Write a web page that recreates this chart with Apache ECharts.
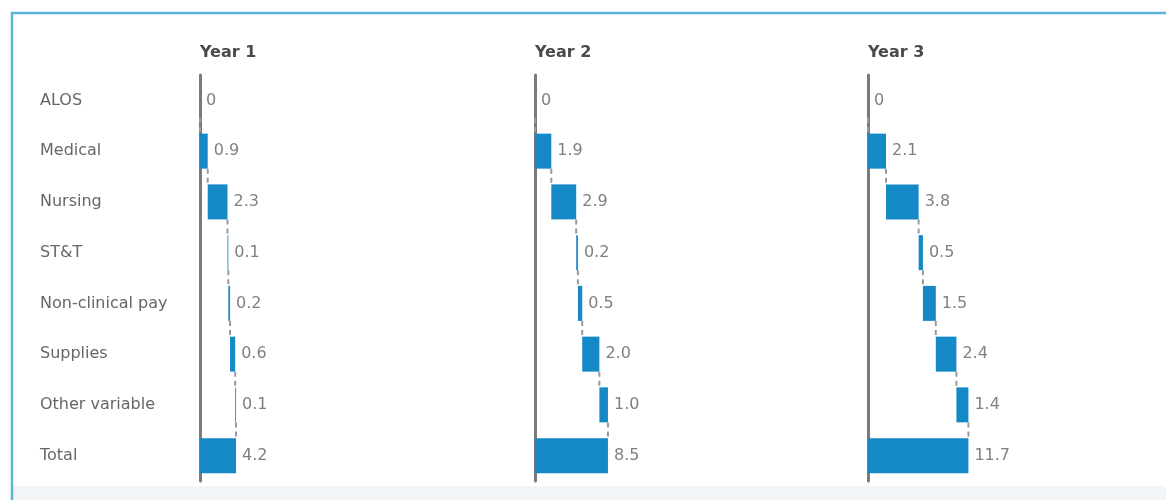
<!DOCTYPE html>
<html>
<head>
<meta charset="utf-8">
<style>
  html, body { margin: 0; padding: 0; background: #ffffff; }
  #chart { width: 1166px; height: 500px; }
</style>
<script src="https://cdn.jsdelivr.net/npm/echarts@6/dist/echarts.min.js"></script>
</head>
<body>
<div id="chart"></div>
<script>
const categories = ['ALOS', 'Medical', 'Nursing', 'ST&T', 'Non-clinical pay', 'Supplies', 'Other variable', 'Total'];
const panelTitles = ['Year 1', 'Year 2', 'Year 3'];
const year1 = [0, 0.9, 2.3, 0.1, 0.2, 0.6, 0.1, 4.2];
const year2 = [0, 1.9, 2.9, 0.2, 0.5, 2.0, 1.0, 8.5];
const year3 = [0, 2.1, 3.8, 0.5, 1.5, 2.4, 1.4, 11.7];
const yearsData = [year1, year2, year3];

const BAR_W = 35;
const gridLefts = [200, 535, 868];
const GRID_W = 103;
const X_MAX = 12;
const BLUE = '#1489c6';
const FONT = 'DejaVu Sans';

const chart = echarts.init(document.getElementById('chart'), null, { renderer: 'canvas' });

const grids = [], xAxes = [], yAxes = [], series = [], titles = [];

yearsData.forEach((vals, g) => {
  const last = vals.length - 1;
  const bases = [];
  const ends = [];
  let cum = 0;
  vals.forEach((v, i) => {
    if (i === last) { bases.push(0); ends.push(v); }
    else { bases.push(cum); cum += v; ends.push(cum); }
  });

  grids.push({ left: gridLefts[g], top: 75, width: GRID_W, height: 406, containLabel: false });
  xAxes.push({ type: 'value', gridIndex: g, min: 0, max: X_MAX, show: false });
  yAxes.push({
    type: 'category', gridIndex: g, data: categories, inverse: true,
    axisLine: { show: true, lineStyle: { color: '#7a7a7a', width: 3 } },
    axisTick: { show: false },
    splitLine: { show: false },
    axisLabel: g === 0 ? {
      show: true, align: 'left', margin: 160, color: '#666666',
      fontFamily: FONT, fontSize: 16
    } : { show: false }
  });
  titles.push({
    text: panelTitles[g], left: gridLefts[g] - 5, top: 40,
    textStyle: { fontFamily: FONT, fontSize: 16, fontWeight: 'bold', color: '#4a4a4a' }
  });

  series.push({
    type: 'bar', xAxisIndex: g, yAxisIndex: g, stack: 's' + g,
    barWidth: BAR_W, silent: true,
    itemStyle: { color: 'transparent' },
    data: bases
  });
  series.push({
    type: 'bar', xAxisIndex: g, yAxisIndex: g, stack: 's' + g,
    barWidth: BAR_W,
    itemStyle: { color: BLUE },
    label: {
      show: true, position: 'right', distance: 6,
      color: '#808080', fontFamily: FONT, fontSize: 16,
      formatter: p => (p.value === 0 ? '0' : p.value.toFixed(1))
    },
    data: vals
  });
  // dashed connectors between consecutive bars, at the running total
  const connData = ends.slice(0, last).map((e, i) => [e, i]);
  series.push({
    type: 'custom', xAxisIndex: g, yAxisIndex: g, silent: true,
    renderItem: (params, api) => {
      const pt = api.coord([api.value(0), api.value(1)]);
      const band = api.size([0, 1])[1];
      return {
        type: 'line',
        shape: { x1: pt[0], y1: pt[1] + BAR_W / 2, x2: pt[0], y2: pt[1] + band - BAR_W / 2 },
        style: { stroke: '#9a9a9a', lineWidth: 2, lineDash: [5, 4] }
      };
    },
    data: connData,
    z: 1
  });
});

chart.setOption({
  animation: false,
  backgroundColor: '#ffffff',
  graphic: [
    { type: 'rect', z: -10, silent: true,
      shape: { x: 12, y: 486, width: 1160, height: 20 },
      style: { fill: '#f3f6f8' } },
    { type: 'rect', z: -5, silent: true,
      shape: { x: 12, y: 13, width: 1170, height: 500 },
      style: { fill: 'none', stroke: '#5bb3da', lineWidth: 2.5 } }
  ],
  title: titles,
  grid: grids,
  xAxis: xAxes,
  yAxis: yAxes,
  series: series
});
</script>
</body>
</html>
